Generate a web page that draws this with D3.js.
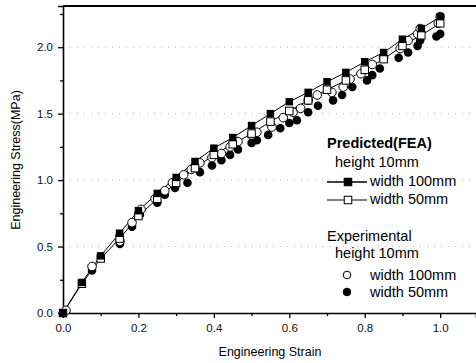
<!DOCTYPE html>
<html>
<head>
<meta charset="utf-8">
<script src="https://cdn.jsdelivr.net/npm/d3@7"></script>
<style>
  body { margin: 0; background: #fff; }
  svg { display: block; font-family: "Liberation Sans", Arial, sans-serif; }
</style>
</head>
<body>
<div id="chart"></div>
<script>
// Predicted (FEA), height 10mm
const fea100 = [[0,0],[0.05,0.23],[0.1,0.43],[0.15,0.60],[0.2,0.77],[0.25,0.90],[0.3,1.02],[0.35,1.14],[0.4,1.24],[0.45,1.32],[0.5,1.41],[0.55,1.50],[0.6,1.59],[0.65,1.66],[0.7,1.74],[0.75,1.81],[0.8,1.89],[0.85,1.96],[0.9,2.06],[0.95,2.14],[1.0,2.23]];
const fea50 = [[0,0],[0.05,0.22],[0.1,0.41],[0.15,0.56],[0.2,0.73],[0.25,0.86],[0.3,0.98],[0.35,1.09],[0.4,1.19],[0.45,1.27],[0.5,1.35],[0.55,1.44],[0.6,1.52],[0.65,1.60],[0.7,1.68],[0.75,1.75],[0.8,1.83],[0.85,1.91],[0.9,2.01],[0.95,2.09],[1.0,2.18]];
// Experimental, height 10mm
const exp100 = [[0.008,0.02],[0.077,0.35],[0.151,0.54],[0.183,0.68],[0.207,0.78],[0.244,0.86],[0.27,0.92],[0.29,0.98],[0.32,1.04],[0.34,1.08],[0.363,1.13],[0.395,1.17],[0.42,1.20],[0.443,1.25],[0.464,1.29],[0.50,1.34],[0.514,1.36],[0.554,1.40],[0.584,1.47],[0.61,1.51],[0.63,1.54],[0.65,1.60],[0.674,1.64],[0.713,1.66],[0.743,1.70],[0.761,1.76],[0.79,1.80],[0.82,1.87],[0.85,1.92],[0.894,1.99],[0.915,2.05],[0.94,2.10],[0.947,2.14],[0.995,2.18],[1.0,2.23]];
const exp50 = [[0.077,0.32],[0.151,0.52],[0.183,0.65],[0.204,0.74],[0.25,0.83],[0.27,0.89],[0.297,0.94],[0.33,0.98],[0.363,1.06],[0.395,1.11],[0.42,1.15],[0.443,1.19],[0.464,1.23],[0.50,1.28],[0.514,1.30],[0.544,1.34],[0.576,1.39],[0.60,1.43],[0.62,1.45],[0.65,1.51],[0.676,1.56],[0.716,1.60],[0.74,1.64],[0.767,1.70],[0.806,1.75],[0.82,1.79],[0.84,1.84],[0.89,1.92],[0.915,1.96],[0.94,2.01],[0.947,2.05],[0.99,2.08],[1.0,2.10]];

const xTicks = [0, 0.2, 0.4, 0.6, 0.8, 1.0];
const yTicks = [0, 0.5, 1.0, 1.5, 2.0];
const xMinor = [0.1, 0.3, 0.5, 0.7, 0.9, 1.1];
const yMinor = [0.25, 0.75, 1.25, 1.75, 2.25];

const W = 476, H = 363;
const margin = { top: 6, right: 0, bottom: 50, left: 63 };
const width = W - margin.left - margin.right;
const height = H - margin.top - margin.bottom;

const svg = d3.select('#chart').append('svg')
  .attr('width', W)
  .attr('height', H);

const g = svg.append('g')
  .attr('transform', `translate(${margin.left},${margin.top})`);

const x = d3.scaleLinear().domain([0, 1.095]).range([0, width]);
const y = d3.scaleLinear().domain([0, 2.31]).range([height, 0]);

// faint dotted gridlines
g.append('g')
  .selectAll('line')
  .data(yTicks.slice(1))
  .enter().append('line')
  .attr('x1', 0).attr('x2', width)
  .attr('y1', d => y(d)).attr('y2', d => y(d))
  .attr('stroke', '#bbb')
  .attr('stroke-width', 1)
  .attr('stroke-dasharray', '1,6');

// axes
g.append('g')
  .attr('transform', `translate(0,${height})`)
  .call(d3.axisBottom(x).tickValues(xTicks).tickFormat(d3.format('.1f')).tickSize(5).tickPadding(6));
g.append('g')
  .attr('transform', `translate(0,${height})`)
  .call(d3.axisBottom(x).tickValues(xMinor).tickFormat('').tickSize(3))
  .select('.domain').remove();

g.append('g')
  .call(d3.axisLeft(y).tickValues(yTicks).tickFormat(d3.format('.1f')).tickSize(5).tickPadding(5));
g.append('g')
  .call(d3.axisLeft(y).tickValues(yMinor).tickFormat('').tickSize(3))
  .select('.domain').remove();

svg.selectAll('.domain').attr('stroke-width', 1.6);
svg.selectAll('.tick line').attr('stroke-width', 1.3);
svg.selectAll('.tick text').attr('font-size', 11.5).attr('fill', '#111');

// top frame line
g.append('line')
  .attr('x1', 0).attr('x2', width)
  .attr('y1', 0).attr('y2', 0)
  .attr('stroke', '#000').attr('stroke-width', 2.2);

const line = d3.line().x(d => x(d[0])).y(d => y(d[1]));

// predicted lines
[fea100, fea50].forEach(data => {
  g.append('path')
    .datum(data)
    .attr('d', line)
    .attr('fill', 'none')
    .attr('stroke', '#000')
    .attr('stroke-width', 1);
});

// experimental markers
g.append('g').selectAll('circle')
  .data(exp50).enter().append('circle')
  .attr('cx', d => x(d[0])).attr('cy', d => y(d[1]))
  .attr('r', 4.3).attr('fill', '#000');

g.append('g').selectAll('circle')
  .data(exp100).enter().append('circle')
  .attr('cx', d => x(d[0])).attr('cy', d => y(d[1]))
  .attr('r', 4.3).attr('fill', '#fff').attr('stroke', '#000').attr('stroke-width', 1);

// predicted markers
const sq = 7.5;
g.append('g').selectAll('rect')
  .data(fea50).enter().append('rect')
  .attr('x', d => x(d[0]) - sq / 2).attr('y', d => y(d[1]) - sq / 2)
  .attr('width', sq).attr('height', sq)
  .attr('fill', '#fff').attr('stroke', '#000').attr('stroke-width', 1);

g.append('g').selectAll('rect')
  .data(fea100).enter().append('rect')
  .attr('x', d => x(d[0]) - sq / 2).attr('y', d => y(d[1]) - sq / 2)
  .attr('width', sq).attr('height', sq)
  .attr('fill', '#000');

// axis titles
svg.append('text')
  .attr('x', 270).attr('y', 356)
  .attr('text-anchor', 'middle')
  .attr('font-size', 12.5)
  .text('Engineering Strain');

svg.append('text')
  .attr('transform', 'translate(20,160) rotate(-90)')
  .attr('text-anchor', 'middle')
  .attr('font-size', 12.5)
  .text('Engineering Stress(MPa)');

// legend
const lg = svg.append('g');
lg.append('text').attr('x', 327).attr('y', 148)
  .attr('font-size', 14.5).attr('font-weight', 'bold').text('Predicted(FEA)');
lg.append('text').attr('x', 335).attr('y', 167)
  .attr('font-size', 14.5).text('height 10mm');

const lgRows = [
  { y: 186, label: 'width 100mm', kind: 'fill' },
  { y: 204, label: 'width 50mm', kind: 'open' }
];
lgRows.forEach(r => {
  lg.append('line').attr('x1', 327).attr('x2', 367)
    .attr('y1', r.y - 4).attr('y2', r.y - 4)
    .attr('stroke', '#000').attr('stroke-width', r.kind === 'fill' ? 1.6 : 1);
  lg.append('rect').attr('x', 348 - sq / 2).attr('y', r.y - 4 - sq / 2)
    .attr('width', sq).attr('height', sq)
    .attr('fill', r.kind === 'fill' ? '#000' : '#fff')
    .attr('stroke', '#000').attr('stroke-width', 1);
  lg.append('text').attr('x', 370).attr('y', r.y)
    .attr('font-size', 14.5).text(r.label);
});

lg.append('text').attr('x', 327).attr('y', 241)
  .attr('font-size', 14.5).text('Experimental');
lg.append('text').attr('x', 335).attr('y', 258)
  .attr('font-size', 14.5).text('height 10mm');

const expRows = [
  { y: 280, label: 'width 100mm', fill: '#fff' },
  { y: 297, label: 'width 50mm', fill: '#000' }
];
expRows.forEach(r => {
  lg.append('circle').attr('cx', 347).attr('cy', r.y - 5).attr('r', 3.8)
    .attr('fill', r.fill).attr('stroke', '#000').attr('stroke-width', 1);
  lg.append('text').attr('x', 370).attr('y', r.y)
    .attr('font-size', 14.5).text(r.label);
});
</script>
</body>
</html>
